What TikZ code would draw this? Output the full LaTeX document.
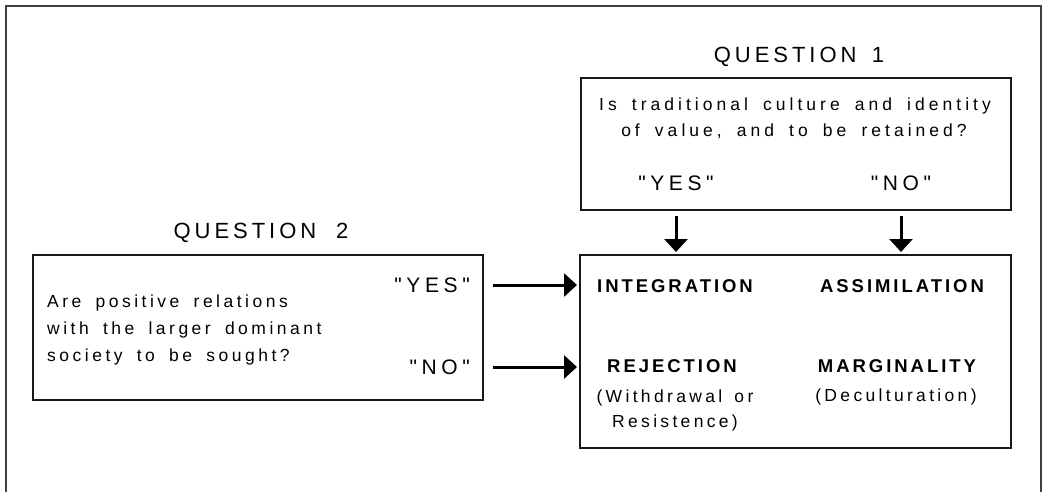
\documentclass[tikz,border=0pt]{standalone}
\usepackage{fontspec}
\setmainfont{Liberation Sans}
\usetikzlibrary{arrows.meta,calc}

% widely tracked lettering
\newfontfamily\bodyfont[LetterSpace=23,WordSpace=1.7]{Liberation Sans}
\newfontfamily\sidefont[LetterSpace=20,WordSpace=1.7]{Liberation Sans}
\newfontfamily\titlefont[LetterSpace=18]{Liberation Sans}
\newfontfamily\answerfont[LetterSpace=22]{Liberation Sans}
\newfontfamily\outcomefont[LetterSpace=16]{Liberation Sans}
\newfontfamily\notefont[LetterSpace=19,WordSpace=1.5]{Liberation Sans}

\tikzset{
  frameline/.style={draw=black!75, line width=1.4pt},
  panel/.style={draw=black!90, line width=2pt, inner sep=0pt, rectangle},
  qtitle/.style={inner sep=0pt, font=\titlefont\fontsize{22}{26}\selectfont},
  qtext/.style={inner sep=0pt, font=\bodyfont\fontsize{17.5}{27}\selectfont},
  sidetext/.style={inner sep=0pt, font=\sidefont\fontsize{17.5}{27}\selectfont},
  answer/.style={inner sep=0pt, font=\answerfont\fontsize{21}{25}\selectfont},
  outcome/.style={inner sep=0pt, font=\outcomefont\bfseries\fontsize{18.5}{22}\selectfont},
  note/.style={inner sep=0pt, align=center, font=\notefont\fontsize{17.5}{25}\selectfont},
  flow/.style={line width=3pt, -{Triangle[length=13pt,width=23pt]}},
}

\begin{document}
\begin{tikzpicture}[x=1pt,y=-1pt]
\useasboundingbox (0,0) rectangle (1044,491);

% outer frame (open at the bottom)
\draw[frameline] (6,520) -- (6,6) -- (1041,6) -- (1041,520);

% Question 1
\node[qtitle] (t1) at (799,57) {QUESTION\hspace{0.7em}1};
\node[panel, minimum width=430pt, minimum height=132pt] (q1) at (796,144) {};
\node[qtext] (q1a) at (795,106) {Is traditional culture and identity};
\node[qtext] (q1b) at (794,131) {of value, and to be retained?};
\node[answer] (yes1) at (676,183) {"YES"};
\node[answer] (no1) at (901,183) {"NO"};

% Question 2
\node[qtitle] (t2) at (261,233) {QUESTION\hspace{0.9em}2};
\node[panel, minimum width=450pt, minimum height=145pt] (q2) at (258,327.5) {};
\node[sidetext, align=left, anchor=west] (q2a) at (47,330)
  {Are positive relations\\with the larger dominant\\society to be sought?};
\node[answer, anchor=east] (yes2) at (470,285) {"YES"};
\node[answer, anchor=east] (no2) at (470,367) {"NO"};

% outcomes
\node[panel, minimum width=431pt, minimum height=193pt] (out) at (795.5,351.5) {};
\node[outcome] (integ) at (675,286) {INTEGRATION};
\node[outcome] (assim) at (902,286) {ASSIMILATION};
\node[outcome] (rej) at (672,366) {REJECTION};
\node[outcome] (marg) at (897,366) {MARGINALITY};
\node[note] (withd) at (675,410) {(Withdrawal or\\Resistence)};
\node[note] (decul) at (896,397) {(Deculturation)};

% connectors
\draw[flow] ($(yes1 |- q1.south)+(0,5)$) -- ($(yes1 |- out.north)+(0,-2)$);
\draw[flow] ($(no1 |- q1.south)+(0,5)$) -- ($(no1 |- out.north)+(0,-2)$);
\draw[flow] ($(q2.east |- yes2)+(9,0)$) -- ($(out.west |- yes2)+(-2,0)$);
\draw[flow] ($(q2.east |- no2)+(9,0)$) -- ($(out.west |- no2)+(-2,0)$);
\end{tikzpicture}
\end{document}
